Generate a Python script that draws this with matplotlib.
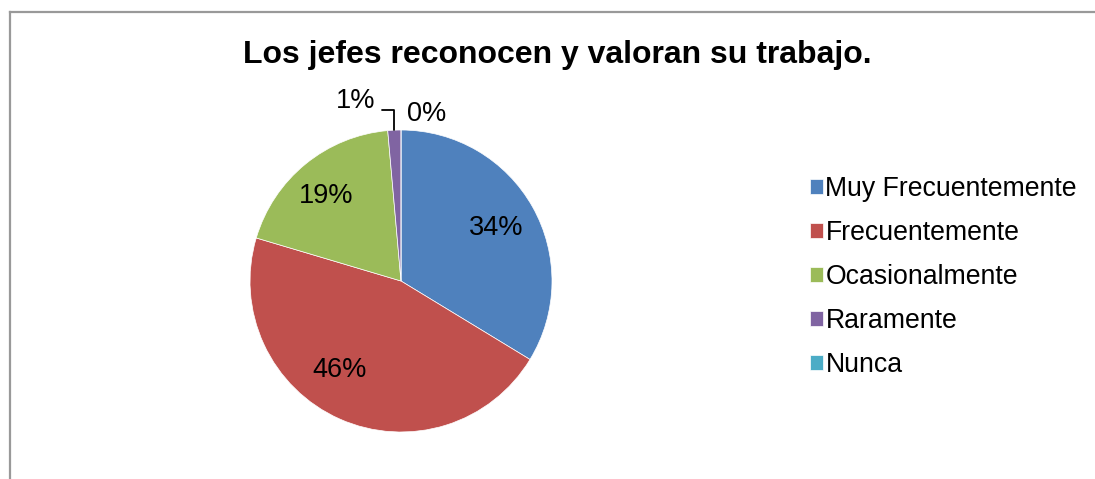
import numpy as np
import matplotlib.pyplot as plt
from matplotlib.lines import Line2D

plt.rcParams['font.family'] = ['Liberation Sans', 'DejaVu Sans']

categorias = ['Muy Frecuentemente', 'Frecuentemente', 'Ocasionalmente', 'Raramente', 'Nunca']
porcentajes = [33.7, 45.9, 19.0, 1.4, 0.0]
etiquetas = ['34%', '46%', '19%', '1%', '0%']
colores = ['#4F81BD', '#C0504D', '#9BBB59', '#8064A2', '#4BACC6']

W, H = 1095, 479
fig = plt.figure(figsize=(W / 100, H / 100), dpi=100)

# marco gris del area del grafico
fig.add_artist(Line2D([9.5 / W, 9.5 / W], [0, 1 - 12 / H], color='#999999', lw=1.6))
fig.add_artist(Line2D([9.5 / W, 1], [1 - 12 / H, 1 - 12 / H], color='#999999', lw=1.6))

fig.text(557.5 / W, 1 - 55 / H, 'Los jefes reconocen y valoran su trabajo.',
         ha='center', va='center', fontsize=23, fontweight='bold')

# pastel: centro (401, 281) px, radio 151 px
cx, cy, r = 401, 281, 151
lim = 1.6
ax = fig.add_axes([(cx - r * lim) / W, (H - cy - r * lim) / H, 2 * r * lim / W, 2 * r * lim / H])
wedges, _ = ax.pie(porcentajes, colors=colores, startangle=90, counterclock=False,
                   wedgeprops=dict(edgecolor='white', linewidth=0.5))
ax.set_xlim(-lim, lim)
ax.set_ylim(-lim, lim)
ax.axis('off')

fs = 19.5
# posiciones de etiquetas (px respecto al centro), como las coloca Excel
pos_etiquetas = [(95, 53), (-61, -89), (-75, 85), (-45, 180), (26, 167)]
for txt, (dx, dy) in zip(etiquetas, pos_etiquetas):
    ax.text(dx / r, dy / r, txt, ha='center', va='center', fontsize=fs)

# linea guia de "1%"
ang = np.deg2rad((wedges[3].theta1 + wedges[3].theta2) / 2)
ax.annotate('', xy=(np.cos(ang), np.sin(ang)), xytext=(-19 / r, 171 / r),
            arrowprops=dict(arrowstyle='-', color='black', lw=1.3, patchA=None, shrinkA=0, shrinkB=0,
                            connectionstyle='angle,angleA=0,angleB=90,rad=0'))

fig.legend(wedges, categorias, loc='center left', bbox_to_anchor=(810 / W, 1 - 277 / H),
           frameon=False, fontsize=19.2, handlelength=0.5, handleheight=0.5,
           handletextpad=0.08, labelspacing=0.68, borderaxespad=0, borderpad=0)

fig.savefig('out.png', dpi=100)
